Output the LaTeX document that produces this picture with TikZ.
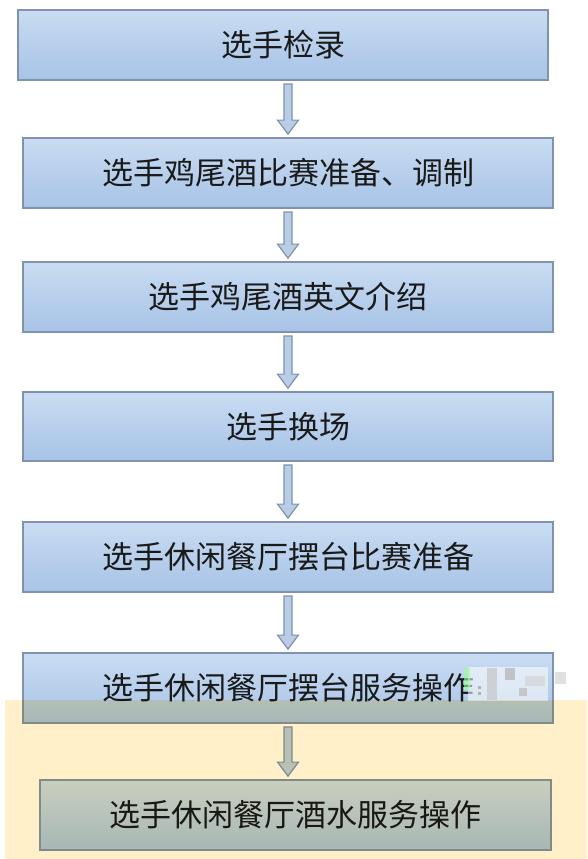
\documentclass[tikz,border=0pt]{standalone}
\usepackage{fontspec}
\newfontfamily\cjk{Noto Sans CJK SC}
\usetikzlibrary{calc}
\definecolor{boxtop}{HTML}{C9DCF2}
\definecolor{boxbot}{HTML}{A7C3E6}
\definecolor{boxline}{HTML}{7F93AE}
\definecolor{arrfill}{HTML}{B9CDE6}
\definecolor{beige}{HTML}{FFF0C9}
\definecolor{txt}{HTML}{1A1A1A}
\tikzset{
  stepbox/.style={rectangle, draw=boxline, line width=1.8pt, top color=boxtop, bottom color=boxbot,
    minimum height=70pt, inner sep=0pt, font=\cjk\fontsize{31}{31}\selectfont, text=txt},
  blockarr/.style={draw=boxline, line width=1.2pt, fill=arrfill, line join=miter},
}
\newcommand{\blockarrow}[2]{%
  \path[blockarr] let \p1=(#1.south), \p2=(#2.north), \p3=(ax) in
    (\x3-4pt,\y1-3pt) -- (\x3+4pt,\y1-3pt) -- (\x3+4pt,\y2+17pt) -- (\x3+10.5pt,\y2+17pt)
    -- (\x3,\y2+3pt) -- (\x3-10.5pt,\y2+17pt) -- (\x3-4pt,\y2+17pt) -- cycle;}
\begin{document}
\begin{tikzpicture}[x=1pt,y=-1pt]
\fill[white] (0,0) rectangle (587,859);
\useasboundingbox (0,0) rectangle (587,859);
\coordinate (ax) at (288,0);
\node[stepbox, minimum width=530pt] (b1) at (283,45) {选手检录};
\node[stepbox, minimum width=530pt] (b2) at (288,173) {选手鸡尾酒比赛准备、调制};
\node[stepbox, minimum width=530pt] (b3) at (288,297) {选手鸡尾酒英文介绍};
\node[stepbox, minimum width=530pt, minimum height=69pt] (b4) at (288,426.5) {选手换场};
\node[stepbox, minimum width=530pt] (b5) at (288,557) {选手休闲餐厅摆台比赛准备};
\node[stepbox, minimum width=530pt] (b6) at (288,688) {选手休闲餐厅摆台服务操作};
\node[stepbox, minimum width=511pt] (b7) at (295.5,815) {选手休闲餐厅酒水服务操作};
\blockarrow{b1}{b2}
\blockarrow{b2}{b3}
\blockarrow{b3}{b4}
\blockarrow{b4}{b5}
\blockarrow{b5}{b6}
\blockarrow{b6}{b7}
% obscured patch at the end of box 6
\fill[white, opacity=0.55] (468,667) rectangle (548,701);
\fill[green!40!white, opacity=0.6] (464,668) rectangle (470,690);
\fill[gray!45, opacity=0.7] (487,668) rectangle (497,700);
\fill[gray!60, opacity=0.7] (505,668) rectangle (515,680);
\fill[gray!35, opacity=0.6] (525,676) rectangle (545,686);
\fill[gray!55, opacity=0.7] (519,688) rectangle (527,696);
\fill[gray!60] (478,686) rectangle (481,689);
\fill[gray!60] (478,692) rectangle (481,695);
\fill[gray!40, opacity=0.6] (555,672) rectangle (566,684);
% beige overlay
\begin{scope}[blend mode=multiply]
\fill[beige] (5,700) rectangle (587,859);
\end{scope}
\end{tikzpicture}
\end{document}
